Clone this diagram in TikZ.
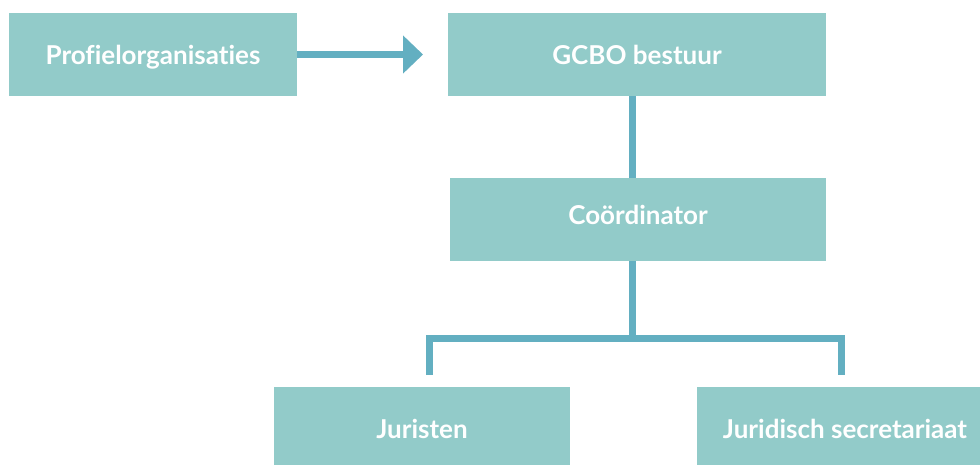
\documentclass[tikz,border=0pt]{standalone}
\usepackage{fontspec}
\setmainfont{Lato}[Ligatures={NoCommon,NoRequired,NoContextual}]
\usetikzlibrary{arrows.meta}
\definecolor{boxfill}{HTML}{92CBC9}
\definecolor{linec}{HTML}{63AFC1}
\tikzset{
  orgbox/.style={fill=boxfill, draw=none, inner sep=0pt, text=white, text height=20pt, text depth=0pt, font=\bfseries\fontsize{26}{30}\selectfont},
  conn/.style={draw=linec, line width=7pt},
}
\begin{document}
\begin{tikzpicture}[x=1pt,y=-1pt]
\useasboundingbox (0,0) rectangle (980,464);
\clip (0,0) rectangle (980,464);
\node[orgbox, minimum width=288pt, minimum height=83pt] (prof) at (153,54.5) {Profielorganisaties};
\node[orgbox, minimum width=378pt, minimum height=83pt] (gcbo) at (637,54.5) {GCBO bestuur};
\node[orgbox, minimum width=376pt, minimum height=83pt, text depth=10pt] (coord) at (638,219.5) {Coördinator};
\node[orgbox, minimum width=296pt, minimum height=83pt] (jur) at (422,428.5) {Juristen};
\node[orgbox, minimum width=296pt, minimum height=83pt] (sec) at (845,428.5) {Juridisch secretariaat};
\coordinate (split) at (632.5,338.5);
\coordinate (arrtip) at (423,54.5);
\draw[conn, -{Triangle[width=37pt,length=20pt]}] (prof.east) -- (arrtip);
\draw[conn] (gcbo.south -| split) -- (coord.north -| split);
\draw[conn] (coord.south -| split) -- (split);
\draw[conn] (429.5,375) |- (split) -| (841.5,375);
\end{tikzpicture}
\end{document}
